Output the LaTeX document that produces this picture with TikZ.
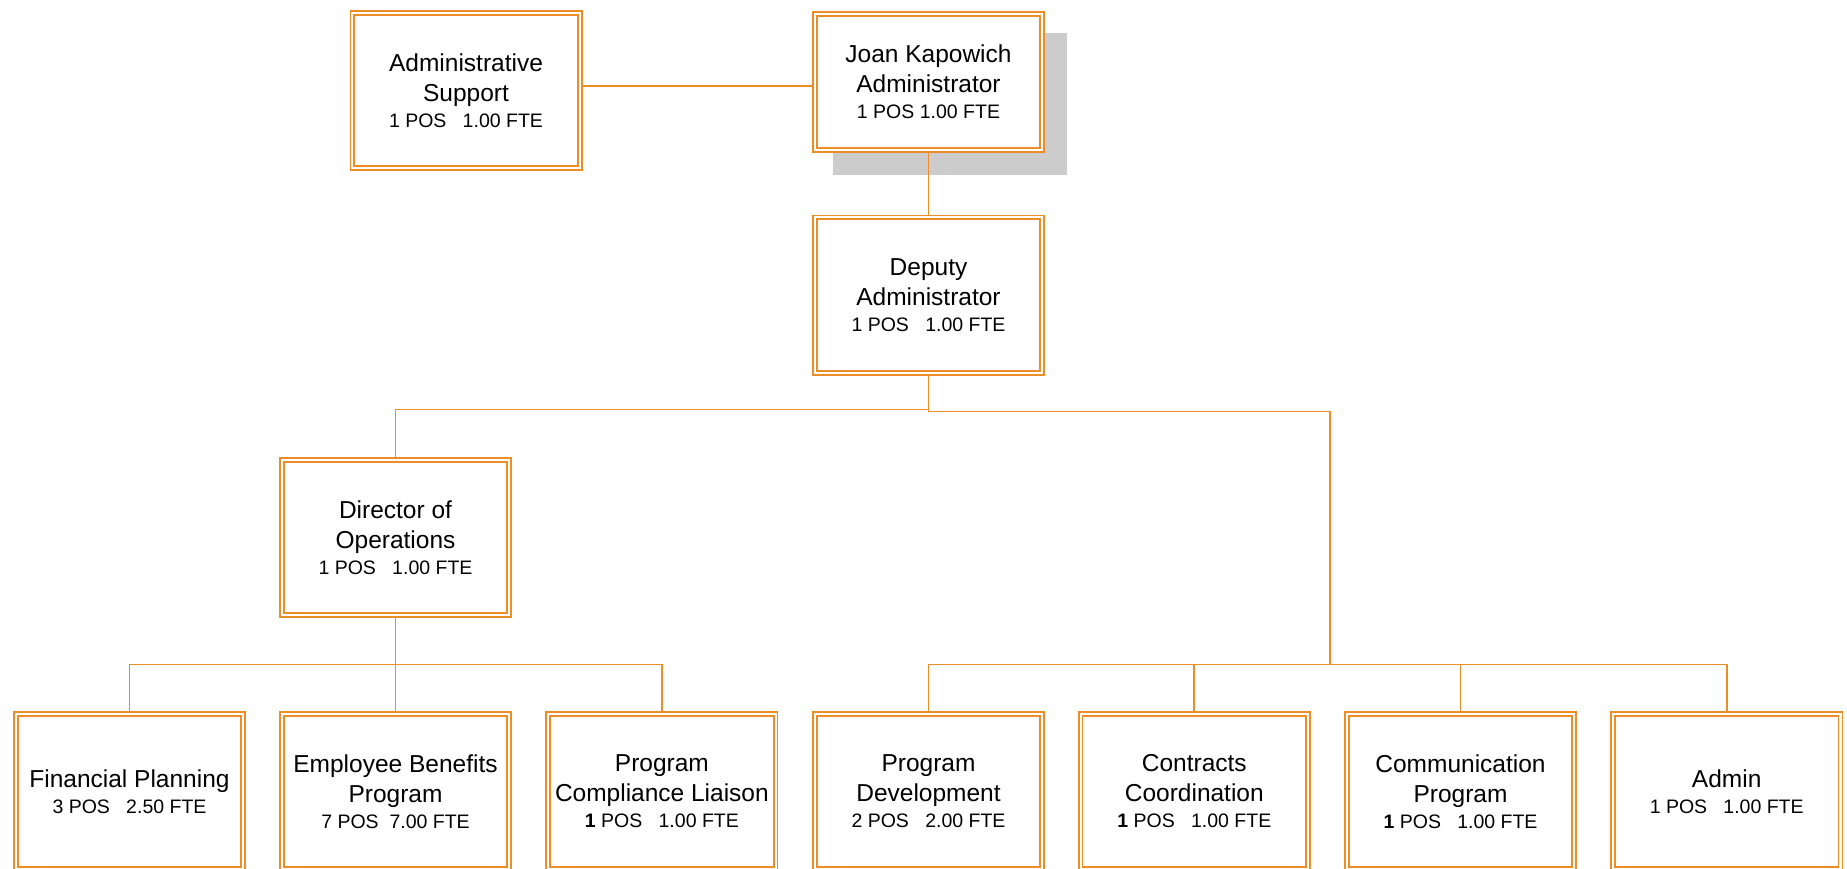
\documentclass[tikz,border=0pt]{standalone}
\usepackage{fontspec}
\setmainfont{Liberation Sans}
\usetikzlibrary{backgrounds}
\definecolor{orgline}{RGB}{237,141,38}
\definecolor{shadowgray}{RGB}{204,204,204}
\tikzset{
  unitbox/.style={draw=orgline, line width=1.7pt, double=white, double distance=2.2pt,
    fill=white, rectangle, inner sep=0pt, outer sep=2.8pt,
    minimum width=227.4pt, minimum height=155.4pt, align=center,
    font=\fontsize{24.5}{30}\selectfont},
  topbox/.style={unitbox, minimum height=136.4pt},
  link/.style={draw=orgline, line width=1.8pt},
}
% second line of a box: positions and staffing
\newcommand{\staff}[1]{\\[-4pt]{\fontsize{19.5}{24}\selectfont #1}}
\begin{document}
\begin{tikzpicture}[x=1pt, y=-1pt]
\useasboundingbox (0,0) rectangle (1847,868);
\clip (0,0) rectangle (1847,868);

% top level
\node[unitbox] (as)  at (466,90.5) {Administrative\\Support\staff{1 POS~~~1.00 FTE}};
\node[topbox]  (jk)  at (928.5,82) {Joan Kapowich\\Administrator\staff{1 POS 1.00 FTE}};
\node[unitbox] (dep) at (928.5,295) {Deputy\\Administrator\staff{1 POS~~~1.00 FTE}};
\node[unitbox] (dir) at (395.5,537.5) {Director of\\Operations\staff{1 POS~~~1.00 FTE}};

% bottom row
\node[unitbox] (fp) at (129.5,791.5) {Financial Planning\staff{3 POS~~~2.50 FTE}};
\node[unitbox] (eb) at (395.5,791.5) {Employee Benefits\\Program\staff{7 POS~~7.00 FTE}};
\node[unitbox] (pc) at (661.9,791.5) {Program\\Compliance Liaison\staff{{\bfseries 1} POS~~~1.00 FTE}};
\node[unitbox] (pd) at (928.5,791.5) {Program\\Development\staff{2 POS~~~2.00 FTE}};
\node[unitbox] (cc) at (1194.3,791.5) {Contracts\\Coordination\staff{{\bfseries 1} POS~~~1.00 FTE}};
\node[unitbox] (cp) at (1460.5,791.5) {Communication\\Program\staff{{\bfseries 1} POS~~~1.00 FTE}};
\node[unitbox] (ad) at (1726.7,791.5) {Admin\staff{1 POS~~~1.00 FTE}};

\coordinate (rj) at (1330,664.5);
\coordinate (asj) at (0,86);

\begin{scope}[on background layer]
  % drop shadow of the administrator box
  \fill[shadowgray] ([xshift=21pt,yshift=-22pt]jk.south west) rectangle ([xshift=22pt,yshift=-22pt]jk.north east);
  % reporting lines
  \draw[link] (as.east |- asj) -- (jk.west |- asj);
  \draw[link] (jk.south) -- (dep.north);
  \draw[link] (dep.south) -- ++(0,34) -| (dir.north);
  \draw[link] (dep.south) -- ++(0,36) -| (rj);
  \draw[link] (dir.south) -- (eb.north);
  \draw[link] (fp.north) |- (rj -| dir.south) -| (pc.north);
  \draw[link] (pd.north) |- (rj) -| (ad.north);
  \draw[link] (cc.north) -- (cc.north |- rj);
  \draw[link] (cp.north) -- (cp.north |- rj);
\end{scope}
\end{tikzpicture}
\end{document}
